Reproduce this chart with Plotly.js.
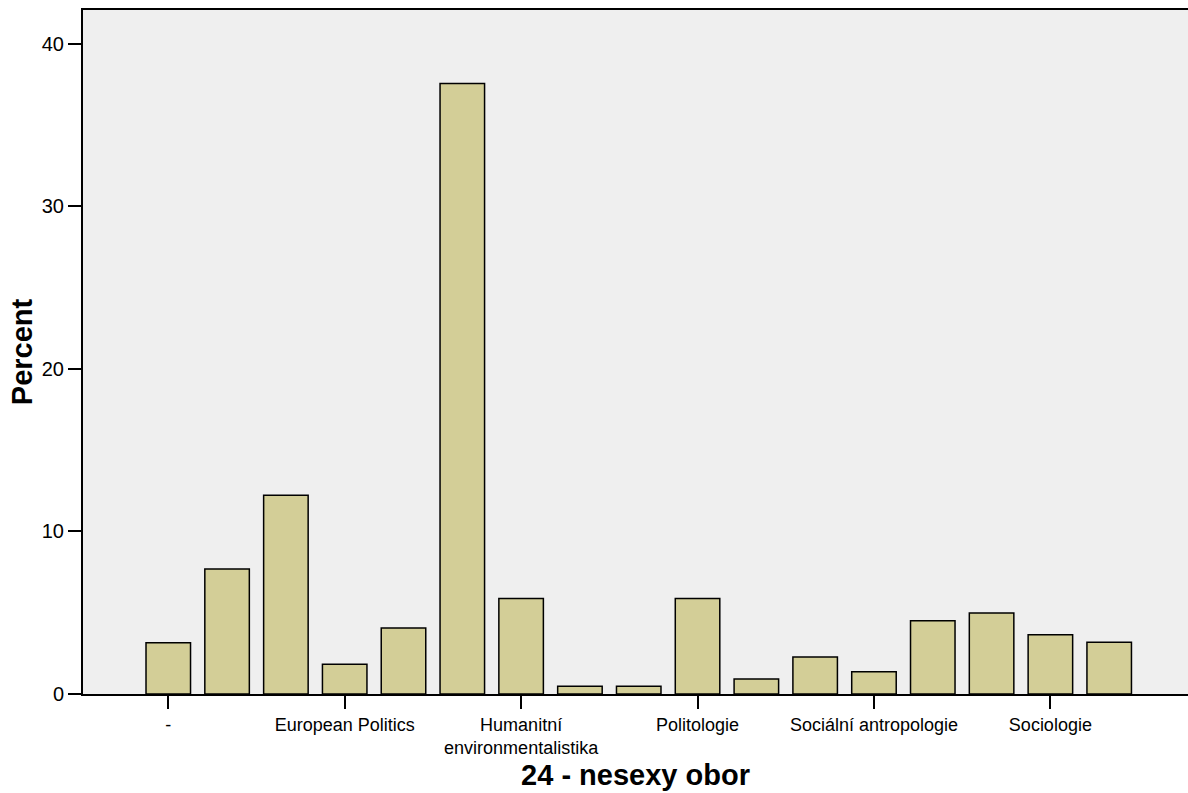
<!DOCTYPE html>
<html>
<head>
<meta charset="utf-8">
<script src="https://cdn.plot.ly/plotly-3.0.1.min.js"></script>
<style>html,body{margin:0;padding:0;background:#fff;}#chart{width:1188px;height:793px;}</style>
</head>
<body>
<div id="chart"></div>
<script>
// Categories (field of study), in the order drawn
const categories = [
  "-",
  "Bezpečnostní a strategická studia",
  "Environmentální studia",
  "European Politics",
  "Evropská studia",
  "Genderová studia",
  "Humanitní environmentalistika",
  "Mediální studia a žurnalistika",
  "Mezinárodní vztahy",
  "Politologie",
  "Psychologie",
  "Sociální a kulturní ekologie",
  "Sociální antropologie",
  "Sociální pedagogika",
  "Sociální politika a sociální práce",
  "Sociologie",
  "Veřejná politika a lidské zdroje"
];
// Percent values
const percents = [3.16, 7.69, 12.23, 1.83, 4.06, 37.56, 5.87, 0.47, 0.47, 5.87, 0.92, 2.28, 1.37, 4.51, 4.98, 3.65, 3.18];
// Categories whose labels are shown on the axis, and the text shown
const tickCategories = ["-", "European Politics", "Humanitní environmentalistika", "Politologie", "Sociální antropologie", "Sociologie"];
const tickLabels = ["-", "European Politics", "Humanitní<br>environmentalistika", "Politologie", "Sociální antropologie", "Sociologie"];
const xTitle = "24 - nesexy obor";
const yTitle = "Percent";

const FONT = "Arial, 'Liberation Sans', Helvetica, sans-serif";

const trace = {
  type: "bar",
  x: categories,
  y: percents,
  marker: { color: "#D3CE97", line: { color: "#000000", width: 1.5 } },
  hoverinfo: "x+y"
};

const layout = {
  width: 1188,
  height: 793,
  margin: { l: 83, r: 0, t: 10, b: 99, pad: 0 },
  paper_bgcolor: "#FFFFFF",
  plot_bgcolor: "#EFEFEF",
  bargap: 0.243,
  showlegend: false,
  font: { family: FONT, color: "#000000" },
  xaxis: {
    type: "category",
    range: [-1.45, 17.34],
    tickmode: "array",
    tickvals: tickCategories,
    ticktext: tickLabels,
    ticks: "outside",
    ticklen: 13,
    tickwidth: 2,
    tickcolor: "#000000",
    tickfont: { family: FONT, size: 18, color: "#000000" },
    showgrid: false,
    zeroline: false,
    showline: true,
    linecolor: "#000000",
    linewidth: 2,
    mirror: true,
    title: { text: xTitle, font: { family: FONT, size: 29, color: "#000000", weight: "bold" }, standoff: 8 }
  },
  yaxis: {
    range: [0, 42.09],
    tickmode: "linear",
    tick0: 0,
    dtick: 10,
    ticks: "outside",
    ticklen: 13,
    tickwidth: 2,
    tickcolor: "#000000",
    tickfont: { family: FONT, size: 20, color: "#000000" },
    showgrid: false,
    zeroline: false,
    showline: true,
    linecolor: "#000000",
    linewidth: 2,
    title: { text: yTitle, font: { family: FONT, size: 29, color: "#000000", weight: "bold" }, standoff: 1 }
  }
};

Plotly.newPlot("chart", [trace], layout, { displayModeBar: false, staticPlot: true });
</script>
</body>
</html>
